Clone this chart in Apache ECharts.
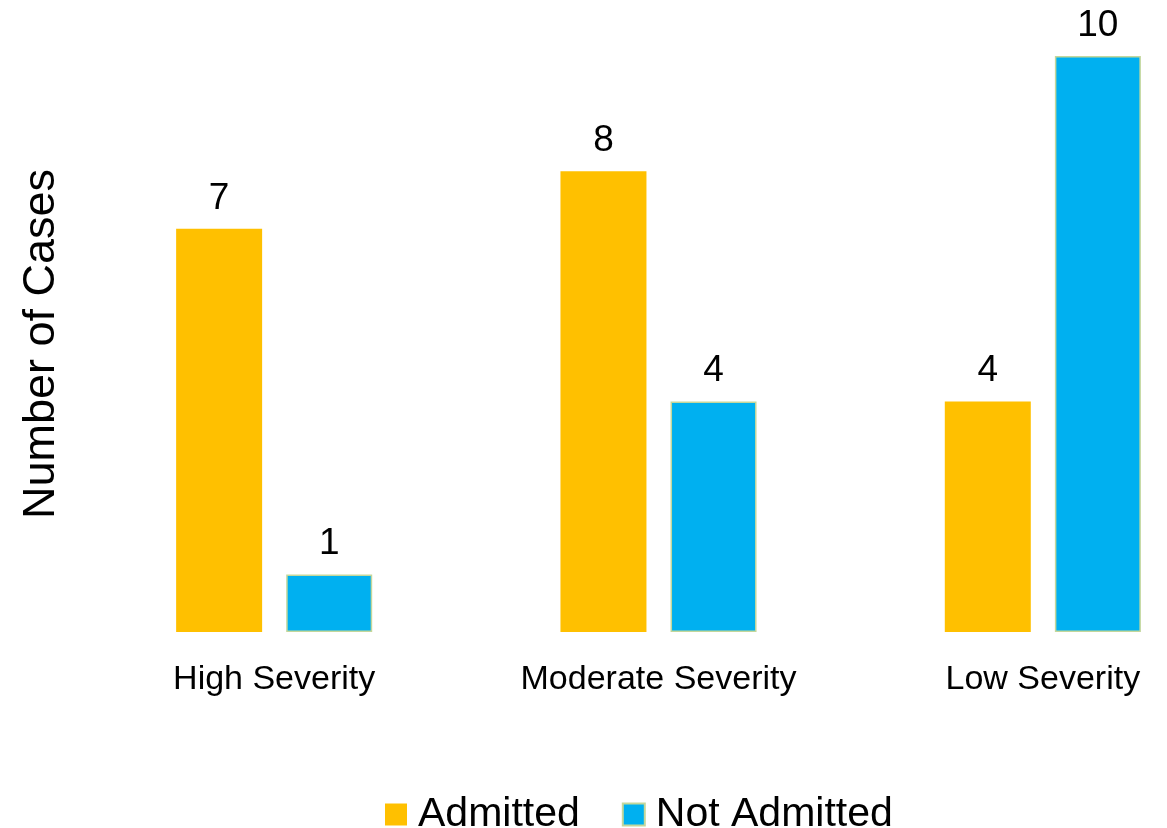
<!DOCTYPE html>
<html><head><meta charset="utf-8">
<script src="https://cdn.jsdelivr.net/npm/echarts@6/dist/echarts.min.js"></script>
<style>html,body{margin:0;padding:0;background:#fff}#c{width:1167px;height:828px}</style>
</head><body><div id="c"></div>
<script>
const categories = ['High Severity', 'Moderate Severity', 'Low Severity'];
const admitted = [7, 8, 4];
const notAdmitted = [1, 4, 10];
const seriesNames = ['Admitted', 'Not Admitted'];

const chart = echarts.init(document.getElementById('c'));
const font = '"Liberation Sans", Arial, sans-serif';
const lbl = {show: true, position: 'top', distance: 12, color: '#000', fontSize: 37, fontFamily: font};
chart.setOption({
  animation: false,
  legend: {
    data: seriesNames, bottom: -12, left: 380, itemWidth: 22, itemHeight: 22, itemGap: 42,
    icon: 'rect',
    textStyle: {fontSize: 41, fontFamily: font, color: '#000', padding: [0, 0, 0, 6]}
  },
  grid: {left: 82, width: 1153, top: 56, bottom: 196, outerBoundsMode: 'none', containLabel: false},
  xAxis: {
    type: 'category', data: categories,
    axisLine: {show: false}, axisTick: {show: false},
    axisLabel: {fontSize: 34, fontFamily: font, color: '#000', margin: 31, interval: 0}
  },
  yAxis: {
    type: 'value', min: 0, max: 10,
    name: 'Number of Cases', nameLocation: 'middle', nameGap: 18, nameRotate: 90,
    nameTextStyle: {fontSize: 45, fontFamily: font, color: '#000'},
    axisLine: {show: false}, axisTick: {show: false}, axisLabel: {show: false}, splitLine: {show: false}
  },
  series: [
    {name: seriesNames[0], type: 'bar', data: admitted, barWidth: 86, barGap: '28%',
     itemStyle: {color: '#FFC000'}, label: lbl},
    {name: seriesNames[1], type: 'bar', data: notAdmitted, barWidth: 86,
     itemStyle: {color: '#00B0F0', borderColor: '#C4D79B', borderWidth: 1.5}, label: lbl}
  ]
});
</script></body></html>
